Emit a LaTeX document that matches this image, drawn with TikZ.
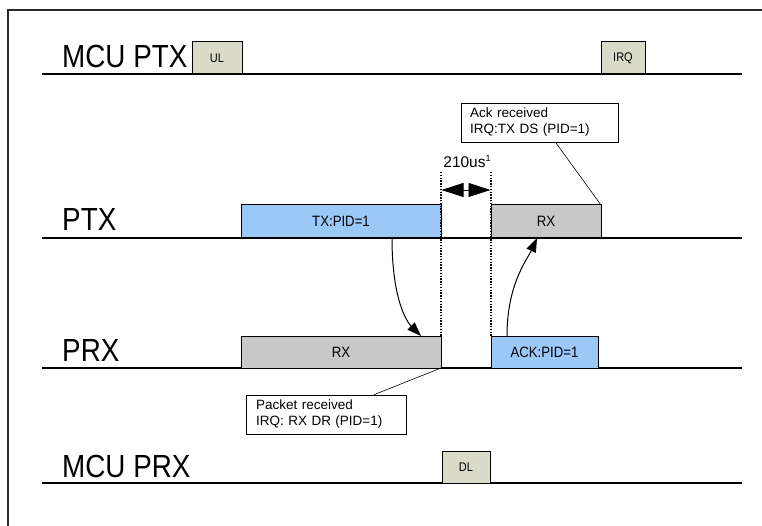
\documentclass[tikz,border=0pt]{standalone}
\usepackage{fontspec}
\setmainfont{Liberation Sans}
\newfontfamily\lanefont{Liberation Sans}[FakeStretch=0.87]
\newfontfamily\boxfont{Liberation Sans}[FakeStretch=0.88]
\usetikzlibrary{arrows.meta}
\definecolor{pktblue}{RGB}{156,200,247}
\definecolor{pktgray}{RGB}{200,200,200}
\definecolor{mcugreen}{RGB}{217,219,200}
\definecolor{framegray}{RGB}{40,40,40}
\tikzset{
  tline/.style={line width=1.5pt, black},
  lane/.style={anchor=base west, inner sep=0pt, font=\lanefont\fontsize{32}{32}\selectfont},
  slot/.style={draw, line width=1pt, inner sep=0pt, outer sep=0pt, font=\boxfont\fontsize{15}{15}\selectfont},
  mcuslot/.style={slot, fill=mcugreen, font=\boxfont\fontsize{12.5}{12.5}\selectfont},
  timing/.style={line width=1.3pt, dash pattern=on 1.4pt off 1.4pt},
  callout/.style={draw, line width=0.6pt, fill=white, inner ysep=0pt, align=left, font=\fontsize{13.5}{16}\selectfont},
  flow/.style={line width=1pt, -{Triangle[length=14pt,width=10pt]}},
}
\begin{document}
\begin{tikzpicture}[x=1pt,y=-1pt]
\useasboundingbox (0,0) rectangle (762,526);
% frame
\coordinate (fb) at (8,526);
\coordinate (fc) at (8,10);
\coordinate (fr) at (762,10);
\draw[line width=2.2pt, framegray] (fb) -- (fc) -- (fr);
% timelines
\coordinate (l1s) at (42,74);  \coordinate (l1e) at (742,74);
\coordinate (l2s) at (42,238); \coordinate (l2e) at (742,238);
\coordinate (l3s) at (42,368); \coordinate (l3e) at (742,368);
\coordinate (l4s) at (42,483); \coordinate (l4e) at (742,483);
\draw[tline] (l1s) -- (l1e);
\draw[tline] (l2s) -- (l2e);
\draw[tline] (l3s) -- (l3e);
\draw[tline] (l4s) -- (l4e);
% lane labels
\node[lane] (mcuptx) at (62,68) {MCU PTX};
\node[lane] (ptx) at (62,231) {PTX};
\node[lane] (prx) at (62,361) {PRX};
\node[lane] (mcuprx) at (62,477) {MCU PRX};
% MCU boxes
\node[mcuslot, minimum width=50pt, minimum height=32pt] (ul) at (217,58) {UL};
\node[mcuslot, minimum width=44pt, minimum height=32pt] (irq) at (623,58) {IRQ};
\node[mcuslot, minimum width=48pt, minimum height=32pt] (dl) at (466,467) {DL};
% PTX boxes
\node[slot, fill=pktblue, minimum width=200pt, minimum height=33pt] (tx) at (341,221.5) {TX:PID=1};
\node[slot, fill=pktgray, minimum width=110pt, minimum height=33pt] (rxptx) at (546,221.5) {RX};
% PRX boxes
\node[slot, fill=pktgray, minimum width=200pt, minimum height=32pt] (rxprx) at (341,352) {RX};
\node[slot, fill=pktblue, minimum width=107pt, minimum height=32pt] (ack) at (544.5,352) {ACK:PID=1};
% timing markers
\coordinate (d1t) at (441,172);
\coordinate (d2t) at (491,172);
\draw[timing] (d1t) -- (rxprx.north east);
\draw[timing] (d2t) -- (ack.north west);
\coordinate (a1) at (441.5,190);
\coordinate (a2) at (490.5,190);
\draw[line width=0.8pt, {Triangle[length=22pt,width=14pt]}-{Triangle[length=22pt,width=14pt]}] (a1) -- (a2);
\node[anchor=base, inner sep=0pt, font=\fontsize{15.5}{15.5}\selectfont] (gap) at (467,168) {210us\raisebox{6pt}{\fontsize{9}{9}\selectfont 1}};
% flow arrows
\draw[flow] ([xshift=51pt]tx.south) .. controls +(0,62) and +(-14,-14) .. ([xshift=-20pt]rxprx.north east);
\draw[flow] ([xshift=16pt]ack.north west) .. controls +(0,-52) and +(-10,22) .. ([xshift=46pt]rxptx.south west);
% callouts
\node[callout, inner xsep=9pt, text width=139pt, minimum height=39pt] (ackc) at (539.5,122.5) {Ack received\\IRQ:TX DS (PID=1)};
\node[callout, inner xsep=10pt, text width=140pt, minimum height=39pt] (pktc) at (326,414.5) {Packet received\\IRQ: RX DR (PID=1)};
\draw[line width=0.6pt] ([xshift=16pt]ackc.south) -- (rxptx.north east);
\draw[line width=0.6pt] ([xshift=48pt]pktc.north) -- (rxprx.south east);
\end{tikzpicture}
\end{document}
